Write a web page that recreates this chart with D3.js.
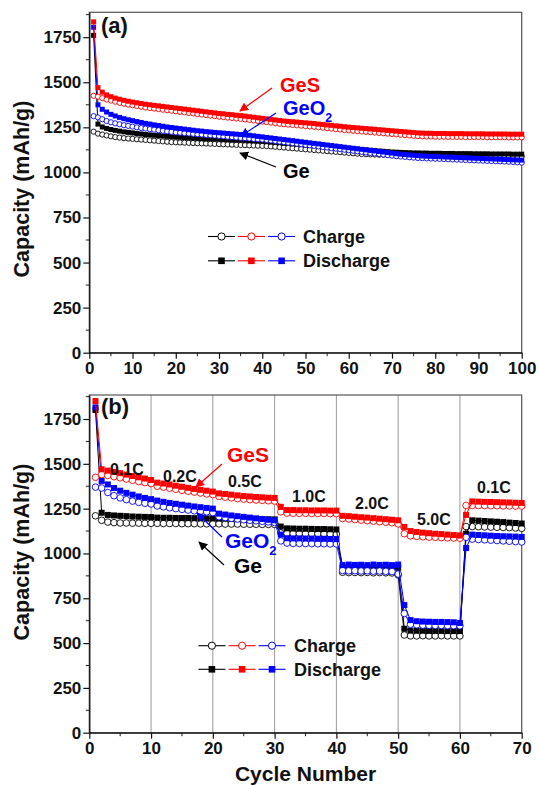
<!DOCTYPE html>
<html><head><meta charset="utf-8">
<script src="https://cdn.jsdelivr.net/npm/d3@7"></script>
<style>body{margin:0;background:#fff}svg{display:block}text{font-family:"Liberation Sans",Arial,sans-serif;font-weight:bold}</style>
</head><body><svg id="c" width="539" height="785"></svg>
<script>
// ---------- Data: panel (a) cycling, cycles 1..100 ----------
const cyclesA = d3.range(1, 101);
const geS_dis_A = [1835,1470,1445,1430,1420,1412,1406,1400,1395,1390,
1386,1382,1378,1375,1372,1369,1366,1363,1360,1357,
1354,1351,1348,1345,1342,1339,1336,1333,1330,1327,
1325,1322,1320,1317,1315,1312,1309,1306,1303,1300,
1297,1294,1291,1288,1285,1283,1281,1279,1277,1275,
1273,1271,1268,1266,1263,1261,1258,1256,1253,1251,
1249,1247,1245,1243,1241,1239,1237,1235,1233,1231,
1229,1227,1225,1223,1221,1219,1218,1217,1217,1216,
1216,1216,1215,1215,1215,1215,1214,1214,1214,1214,
1214,1213,1213,1213,1213,1213,1212,1212,1212,1212];
const geS_ch_A = [1425,1420,1412,1404,1398,1392,1386,1381,1376,1372,
1368,1364,1360,1357,1354,1351,1348,1345,1342,1339,
1336,1333,1330,1327,1324,1321,1318,1315,1312,1309,
1307,1304,1302,1299,1297,1294,1291,1288,1285,1282,
1279,1276,1273,1270,1267,1265,1263,1261,1259,1257,
1255,1253,1250,1248,1245,1243,1240,1238,1235,1233,
1231,1229,1227,1225,1223,1221,1219,1217,1215,1213,
1211,1209,1207,1205,1203,1201,1200,1199,1199,1198,
1198,1198,1197,1197,1197,1197,1196,1196,1196,1196,
1196,1195,1195,1195,1195,1195,1194,1194,1194,1194];
const geO2_dis_A = [1805,1375,1350,1335,1322,1313,1305,1298,1292,1287,
1282,1277,1272,1268,1264,1260,1256,1252,1249,1246,
1243,1240,1237,1234,1231,1229,1226,1224,1222,1220,
1218,1216,1214,1212,1210,1208,1206,1203,1200,1197,
1194,1191,1188,1185,1182,1179,1176,1173,1170,1167,
1164,1161,1158,1155,1152,1149,1146,1143,1140,1137,
1134,1131,1128,1125,1122,1119,1116,1113,1110,1107,
1104,1101,1099,1097,1095,1093,1091,1090,1089,1088,
1087,1086,1085,1084,1083,1082,1081,1080,1079,1078,
1077,1076,1075,1074,1073,1072,1071,1070,1069,1068];
const geO2_ch_A = [1312,1305,1295,1285,1278,1272,1267,1262,1258,1254,
1250,1246,1243,1240,1237,1234,1231,1228,1225,1222,
1220,1218,1216,1214,1212,1210,1208,1206,1204,1202,
1200,1198,1196,1194,1192,1190,1188,1186,1184,1182,
1180,1177,1174,1171,1168,1165,1162,1159,1156,1153,
1150,1147,1144,1141,1138,1135,1132,1129,1126,1123,
1120,1117,1114,1111,1108,1105,1102,1099,1096,1093,
1090,1088,1086,1084,1082,1080,1079,1078,1077,1076,
1075,1074,1073,1072,1071,1070,1069,1068,1067,1066,
1065,1064,1063,1062,1061,1060,1059,1058,1056,1054];
const ge_dis_A = [1760,1268,1252,1244,1238,1233,1229,1225,1222,1219,
1216,1213,1210,1208,1206,1204,1202,1200,1198,1196,
1195,1193,1192,1190,1189,1188,1187,1186,1185,1184,
1183,1182,1181,1180,1179,1178,1177,1176,1175,1173,
1171,1169,1167,1165,1163,1161,1159,1157,1155,1153,
1151,1149,1147,1145,1143,1141,1139,1137,1135,1133,
1131,1129,1127,1125,1123,1121,1119,1117,1115,1113,
1112,1111,1110,1109,1108,1108,1107,1107,1106,1106,
1106,1105,1105,1105,1104,1104,1104,1104,1103,1103,
1103,1103,1102,1102,1102,1102,1102,1101,1101,1101];
const ge_ch_A = [1226,1215,1210,1205,1200,1196,1193,1190,1188,1186,
1184,1182,1180,1178,1176,1174,1172,1170,1168,1167,
1166,1165,1164,1163,1162,1161,1160,1159,1158,1157,
1156,1155,1154,1153,1152,1151,1150,1149,1148,1147,
1146,1144,1142,1140,1138,1136,1134,1132,1130,1128,
1126,1124,1122,1120,1118,1116,1114,1112,1110,1108,
1106,1104,1102,1101,1100,1099,1098,1098,1097,1097,
1096,1096,1096,1095,1095,1095,1095,1094,1094,1094,
1094,1093,1093,1093,1093,1092,1092,1092,1092,1091,
1091,1091,1091,1090,1090,1090,1090,1089,1089,1089];

// ---------- Data: panel (b) rate capability, cycles 1..70 ----------
const cyclesB = d3.range(1, 71);
const geS_dis_B = [1850,1470,1462,1455,1448,1440,1432,1425,1418,1410,
1395,1390,1385,1378,1372,1366,1360,1355,1350,1345,
1335,1332,1328,1324,1320,1318,1315,1313,1311,1310,
1260,1242,1242,1241,1241,1240,1240,1240,1239,1239,
1210,1208,1205,1202,1200,1197,1194,1191,1188,1185,
1148,1125,1120,1116,1113,1110,1108,1105,1103,1100,
1215,1290,1289,1288,1287,1286,1285,1284,1283,1282];
const geS_ch_B = [1425,1440,1435,1428,1422,1415,1408,1401,1395,1390,
1375,1370,1364,1358,1352,1347,1342,1337,1332,1328,
1318,1314,1310,1306,1303,1300,1298,1296,1294,1292,
1232,1225,1224,1224,1224,1223,1223,1223,1222,1222,
1195,1192,1189,1186,1183,1180,1177,1174,1171,1165,
1110,1098,1095,1093,1091,1090,1088,1087,1086,1085,
1268,1268,1267,1267,1266,1266,1265,1265,1264,1264];
const geO2_dis_B = [1815,1405,1385,1365,1350,1338,1328,1318,1310,1303,
1295,1288,1282,1277,1272,1267,1262,1258,1254,1250,
1222,1217,1212,1208,1204,1200,1196,1192,1188,1185,
1105,1085,1084,1084,1083,1083,1082,1082,1081,1080,
935,938,936,937,935,938,936,937,935,938,
712,628,622,620,619,618,618,617,616,612,
1030,1105,1103,1101,1099,1097,1096,1095,1094,1092];
const geO2_ch_B = [1370,1365,1340,1322,1310,1300,1292,1285,1280,1276,
1265,1260,1255,1250,1246,1242,1238,1235,1232,1228,
1205,1200,1196,1192,1188,1185,1182,1179,1176,1173,
1070,1058,1056,1056,1055,1055,1054,1054,1053,1053,
905,903,904,902,903,901,902,900,899,885,
665,605,602,600,599,598,598,597,597,596,
1090,1080,1078,1076,1074,1072,1070,1068,1066,1064];
const ge_dis_B = [1800,1227,1215,1212,1210,1208,1206,1205,1204,1203,
1200,1199,1199,1198,1198,1198,1197,1197,1196,1196,
1195,1195,1194,1194,1193,1193,1192,1192,1191,1190,
1150,1140,1139,1138,1138,1137,1136,1136,1135,1134,
920,921,920,921,920,921,920,921,920,920,
580,570,569,569,568,568,568,567,567,567,
1110,1185,1183,1181,1179,1177,1175,1172,1170,1167];
const ge_ch_B = [1210,1185,1175,1172,1170,1170,1169,1169,1168,1168,
1168,1167,1167,1167,1166,1166,1166,1165,1165,1165,
1165,1164,1164,1164,1163,1163,1163,1162,1162,1162,
1115,1112,1111,1111,1110,1110,1110,1109,1109,1108,
895,893,894,893,894,892,893,892,891,880,
545,540,540,541,540,540,541,540,540,540,
1150,1150,1149,1148,1147,1146,1145,1144,1142,1140];

const yTicks = [0,250,500,750,1000,1250,1500,1750];
const xTicksA = [0,10,20,30,40,50,60,70,80,90,100];
const xTicksB = [0,10,20,30,40,50,60,70];
const rateLabels = ["0.1C","0.2C","0.5C","1.0C","2.0C","5.0C","0.1C"];
const materials = ["Ge","GeO2","GeS"];          // drawing order
const legendOrder = ["Ge","GeS","GeO2"];       // legend order
const colors = {Ge:"#000000", GeO2:"#0000ff", GeS:"#ff0000"};

// ---------- Drawing ----------
const svg = d3.select("#c");
svg.append("rect").attr("width",539).attr("height",785).attr("fill","#fff");

const L = 89.3, R = 521.7;
function panel(cfg){
  const g = svg.append("g");
  const x = d3.scaleLinear().domain(cfg.xdom).range([L, R]);
  const y = d3.scaleLinear().domain([0, cfg.ymax]).range([cfg.bottom, cfg.top]);
  if (cfg.grid) {
    g.selectAll(".grid").data(cfg.grid).enter().append("line")
      .attr("x1", d=>x(d)).attr("x2", d=>x(d)).attr("y1", cfg.top).attr("y2", cfg.bottom)
      .attr("stroke","#9a9a9a").attr("stroke-width",1);
  }
  g.append("rect").attr("x",L).attr("y",cfg.top).attr("width",R-L).attr("height",cfg.bottom-cfg.top)
    .attr("fill","none").attr("stroke","#555").attr("stroke-width",1.2);
  const minorY = d3.range(125, cfg.ymax, 250);
  g.selectAll(".my").data(minorY).enter().append("line")
    .attr("x1",L-3.5).attr("x2",L).attr("y1",d=>y(d)).attr("y2",d=>y(d)).attr("stroke","#222").attr("stroke-width",1);
  const minorX = d3.range(5, cfg.xdom[1], 10);
  g.selectAll(".mx").data(minorX).enter().append("line")
    .attr("y1",cfg.bottom).attr("y2",cfg.bottom+3.5).attr("x1",d=>x(d)).attr("x2",d=>x(d)).attr("stroke","#222").attr("stroke-width",1);
  const ax = g.append("g").attr("transform",`translate(0,${cfg.bottom})`)
    .call(d3.axisBottom(x).tickValues(cfg.xticks).tickFormat(d3.format("d")).tickSize(6).tickPadding(3).tickSizeOuter(0));
  const ay = g.append("g").attr("transform",`translate(${L},0)`)
    .call(d3.axisLeft(y).tickValues(yTicks).tickFormat(d3.format("d")).tickSize(6).tickPadding(2).tickSizeOuter(0));
  [ax, ay].forEach(a => {
    a.select(".domain").attr("stroke","#111").attr("stroke-width",1.3);
    a.selectAll(".tick line").attr("stroke","#111").attr("stroke-width",1.2);
    a.selectAll("text").attr("font-size",17).attr("font-weight","bold")
      .attr("font-family","'Liberation Sans',Arial,sans-serif").attr("fill","#111");
  });
  g.append("text").attr("transform",`translate(29,${cfg.ytitleY}) rotate(-90)`)
    .attr("text-anchor","middle").attr("font-size",21.5).attr("fill","#111").text("Capacity (mAh/g)");
  const line = d3.line().x(d=>x(d[0])).y(d=>y(d[1]));
  materials.forEach(m => {
    const col = colors[m];
    const ch = cfg.series[m].ch.map((v,i)=>[cfg.cycles[i], v]);
    const dis = cfg.series[m].dis.map((v,i)=>[cfg.cycles[i], v]);
    g.append("path").datum(ch).attr("d",line).attr("fill","none").attr("stroke",col).attr("stroke-width",0.9);
    g.selectAll(null).data(ch).enter().append("circle")
      .attr("cx",d=>x(d[0])).attr("cy",d=>y(d[1])).attr("r",cfg.cr)
      .attr("fill","#fff").attr("stroke",col).attr("stroke-width",0.9);
    g.append("path").datum(dis).attr("d",line).attr("fill","none").attr("stroke",col).attr("stroke-width",1);
    g.selectAll(null).data(dis).enter().append("rect")
      .attr("x",d=>x(d[0])-cfg.sq/2).attr("y",d=>y(d[1])-cfg.sq/2)
      .attr("width",cfg.sq).attr("height",cfg.sq).attr("fill",col);
  });
  const lg = cfg.legend;
  [["Charge",0],["Discharge",1]].forEach(([lab, row]) => {
    const ly = lg.y[row];
    legendOrder.forEach((m,i) => {
      const cx = lg.x[i];
      g.append("line").attr("x1",cx-13.5).attr("x2",cx+13.5).attr("y1",ly).attr("y2",ly)
        .attr("stroke",colors[m]).attr("stroke-width",1.1);
      if (row===0) g.append("circle").attr("cx",cx).attr("cy",ly).attr("r",3.6)
        .attr("fill","#fff").attr("stroke",colors[m]).attr("stroke-width",1);
      else g.append("rect").attr("x",cx-3.3).attr("y",ly-3.3).attr("width",6.6).attr("height",6.6).attr("fill",colors[m]);
    });
    g.append("text").attr("x",lg.tx).attr("y",ly+6.5).attr("font-size",18).attr("fill","#111").text(lab);
  });
  g.append("text").attr("x",101).attr("y",cfg.labelY).attr("font-size",22).attr("fill","#111").text(cfg.label);
  return {g, x, y};
}

panel({xdom:[0,100], ymax:1888, top:12.3, bottom:352.7, xticks:xTicksA, cycles:cyclesA,
  series:{Ge:{ch:ge_ch_A,dis:ge_dis_A}, GeO2:{ch:geO2_ch_A,dis:geO2_dis_A}, GeS:{ch:geS_ch_A,dis:geS_dis_A}},
  cr:2.6, sq:5, ytitleY:189, label:"(a)", labelY:33,
  legend:{y:[236.5,260.8], x:[221.5,251.4,281.6], tx:303}});
panel({xdom:[0,70], ymax:1884, top:395, bottom:732.7, xticks:xTicksB, cycles:cyclesB, grid:[10,20,30,40,50,60],
  series:{Ge:{ch:ge_ch_B,dis:ge_dis_B}, GeO2:{ch:geO2_ch_B,dis:geO2_dis_B}, GeS:{ch:geS_ch_B,dis:geS_dis_B}},
  cr:3.3, sq:6, ytitleY:552, label:"(b)", labelY:414,
  legend:{y:[645.7,669.3], x:[211.9,242.1,272], tx:294}});

svg.append("text").attr("x",(L+R)/2).attr("y",781).attr("text-anchor","middle").attr("font-size",21)
  .attr("fill","#111").text("Cycle Number");

const defs = svg.append("defs");
Object.entries(colors).forEach(([m,c]) => {
  defs.append("marker").attr("id","ah-"+m).attr("viewBox","0 0 10 10").attr("refX",9).attr("refY",5)
    .attr("markerWidth",9).attr("markerHeight",9).attr("markerUnits","userSpaceOnUse").attr("orient","auto")
    .append("path").attr("d","M0,0 L10,5 L0,10 z").attr("fill",c);
});
function arrow(m, x1,y1,x2,y2){
  svg.append("line").attr("x1",x1).attr("y1",y1).attr("x2",x2).attr("y2",y2)
    .attr("stroke",colors[m]).attr("stroke-width",1.2).attr("marker-end",`url(#ah-${m})`);
}
function label(m, x, y, size){
  const t = svg.append("text").attr("x",x).attr("y",y).attr("font-size",size).attr("fill",colors[m]);
  if (m==="GeO2") { t.append("tspan").text("GeO"); t.append("tspan").attr("font-size",size*0.62).attr("dy",size*0.35).text("2"); }
  else t.text(m);
}
arrow("GeS", 272,88, 240,111);
arrow("GeO2", 276,113, 241,136);
arrow("Ge", 276,167, 240,153);
label("GeS", 280, 92, 20);
label("GeO2", 283, 115, 20);
label("Ge", 283, 178, 20);
arrow("GeS", 222,464, 196,487);
arrow("GeO2", 222,537, 197,513);
arrow("Ge", 224,565, 199,542);
label("GeS", 227, 462, 21);
label("GeO2", 225, 548, 21);
label("Ge", 234, 573, 21);
const ratePos = [[110,475],[163,482],[228,487],[292,502],[355,509],[417,525],[477,493]];
rateLabels.forEach((t,i)=>{
  svg.append("text").attr("x",ratePos[i][0]).attr("y",ratePos[i][1]).attr("font-size",16).attr("fill","#111").text(t);
});
</script></body></html>
